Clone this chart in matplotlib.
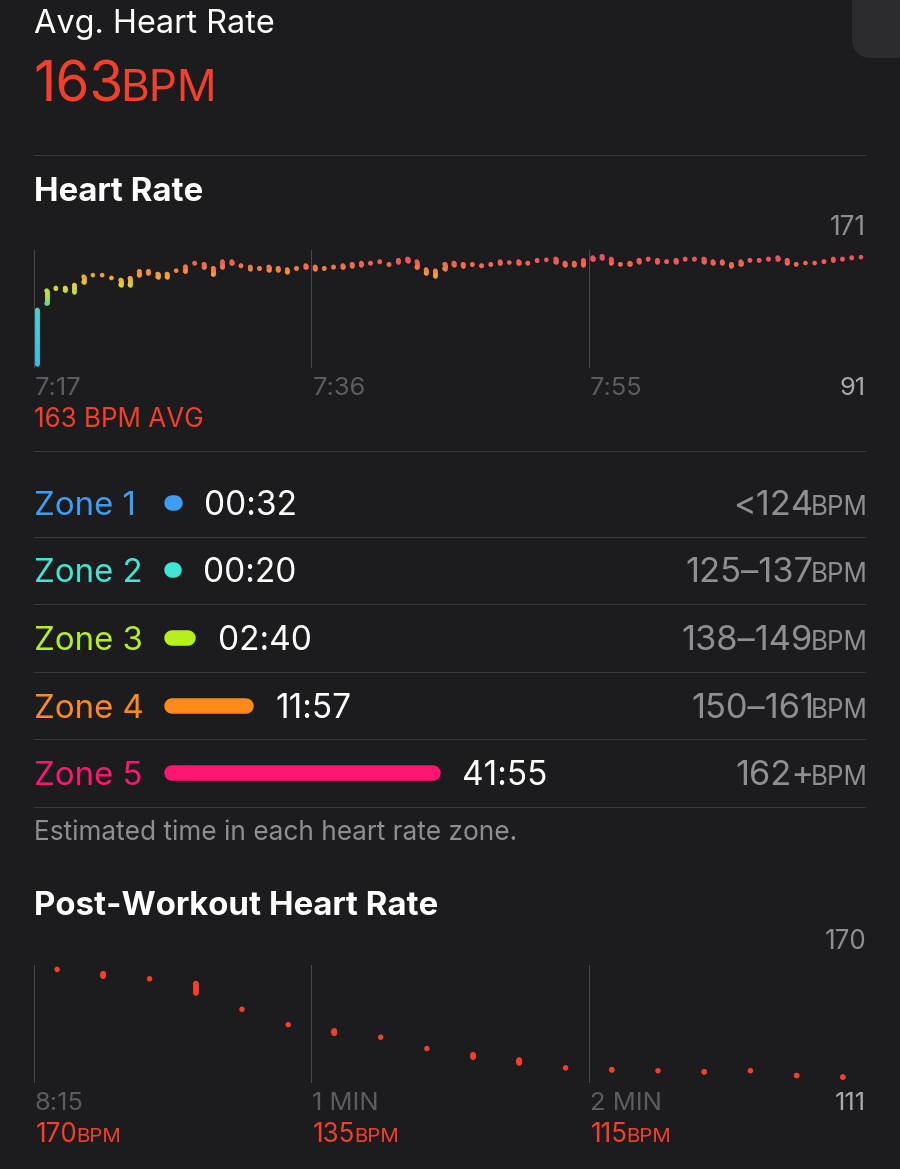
import matplotlib
matplotlib.use("Agg")
import matplotlib.pyplot as plt
import numpy as np
from matplotlib.collections import LineCollection
from matplotlib.colors import LinearSegmentedColormap, Normalize
from matplotlib.patches import FancyBboxPatch
from matplotlib.textpath import TextPath
from matplotlib.font_manager import FontProperties

# ---------------- data ----------------
avg_hr = 163
hr_axis_min, hr_axis_max = 91, 171
hr_tick_minutes = [0, 19, 38]
hr_tick_labels = ["7:17", "7:36", "7:55"]
hr_total_minutes = 57.0
hr_bin_start = 0.23      # minutes after 7:17 of the first sample bin
hr_bin_step = 0.634      # minutes per sample bin
hr_low = [92.4, 133.2, 143.2, 142.1, 141.2, 147.7, 152.5, 152.5, 150.5, 145.9,
          145.9, 152.5, 153.8, 151.3, 151.3, 155.9, 154.9, 160.4, 157.7, 152.9,
          157.9, 160.4, 158.6, 156.8, 156.8, 155.9, 155.9, 154.7, 156.8, 157.7,
          156.8, 156.8, 157.7, 157.7, 158.6, 159.5, 160.4, 161.3, 159.5, 161.3,
          162.2, 157.7, 153.8, 152.0, 156.8, 159.5, 158.6, 159.5, 158.6, 159.5,
          160.4, 161.3, 160.4, 160.4, 162.2, 163.1, 161.3, 159.5, 159.5, 159.6,
          163.1, 164.0, 160.6, 159.7, 159.7, 161.5, 163.1, 161.5, 161.5, 161.5,
          163.1, 163.1, 161.5, 160.6, 160.6, 158.6, 159.7, 162.4, 162.4, 163.1,
          163.1, 160.6, 159.7, 160.6, 160.6, 161.5, 162.4, 163.1, 164.0, 164.9]
hr_high = [131.9, 145.0, 146.8, 146.8, 148.8, 154.5, 155.4, 155.4, 153.6, 152.2,
           153.4, 158.1, 158.1, 156.3, 156.3, 158.1, 161.3, 163.7, 162.9, 160.2,
           164.7, 164.7, 162.0, 161.1, 160.2, 161.1, 160.2, 159.3, 160.2, 162.0,
           161.1, 160.2, 161.1, 162.0, 162.9, 163.7, 163.7, 164.7, 162.9, 165.6,
           166.5, 164.7, 159.3, 158.4, 162.9, 163.7, 162.9, 162.9, 162.0, 162.9,
           164.7, 163.7, 164.7, 163.7, 165.6, 165.6, 166.5, 163.7, 163.7, 165.5,
           167.4, 168.3, 166.5, 162.9, 163.7, 165.6, 166.5, 165.6, 164.7, 165.6,
           166.5, 166.5, 166.5, 164.7, 164.7, 162.9, 164.7, 165.6, 165.6, 166.5,
           167.4, 165.6, 162.9, 163.7, 163.7, 164.7, 166.5, 166.5, 167.4, 167.4]

zone_names = ["Zone 1", "Zone 2", "Zone 3", "Zone 4", "Zone 5"]
zone_times = ["00:32", "00:20", "02:40", "11:57", "41:55"]
zone_seconds = [32, 20, 160, 717, 2515]
zone_ranges = ["<124", "125\u2013137", "138\u2013149", "150\u2013161", "162+"]
zone_colors = ["#3d9df3", "#3ee6d4", "#b6f01c", "#ff8a1c", "#ff1670"]

post_axis_min, post_axis_max = 111, 170
post_tick_seconds = [0, 60, 120]
post_tick_labels = ["8:15", "1 MIN", "2 MIN"]
post_summary = ["170", "135", "115"]
post_seconds = [5, 15, 25, 35, 45, 55, 65, 75, 85, 95, 105, 115, 125, 135, 145, 155, 165, 175]
post_low = [167.8, 163.1, 163.1, 154.8, 146.5, 140.1, 134.4, 133.8, 128.1,
            122.4, 119.7, 117.2, 116.0, 117.0, 115.0, 117.0, 113.2, 112.4]
post_high = [167.8, 167.0, 163.1, 162.1, 149.1, 140.1, 138.3, 133.8, 128.1,
             126.4, 123.6, 119.7, 119.0, 117.0, 117.9, 117.0, 116.0, 115.2]

# ---------------- style ----------------
W, H = 900, 1169
BG = "#1c1c1e"
SEP = "#38383a"
GRID = "#48484a"
GRAY = "#8e8e93"
DIM = "#5c5c61"
RED = "#f4402a"
FONT = ["Inter", "DejaVu Sans"]
PT = 0.72  # points per pixel at dpi 100

plt.rcParams["font.family"] = FONT

fig = plt.figure(figsize=(W / 100, H / 100), dpi=100, facecolor=BG)
ui = fig.add_axes([0, 0, 1, 1])
ui.set_xlim(0, W)
ui.set_ylim(H, 0)
ui.axis("off")
ui.set_facecolor(BG)


def txt(x, y, s, size_px, color, ha="left", weight="normal"):
    return ui.text(x, y, s, fontsize=size_px * PT, color=color, ha=ha,
                   va="baseline", fontweight=weight)


def ink(s, size_px, weight="normal"):
    """(left, right) ink extent of a string drawn at x=0, in pixels."""
    tp = TextPath((0, 0), s, size=size_px, prop=FontProperties(family=FONT, weight=weight))
    e = tp.get_extents()
    return e.x0, e.x1


def pair_left(x, y, s1, px1, s2, px2, color, gap=2):
    l1, r1 = ink(s1, px1)
    txt(x - l1, y, s1, px1, color)
    l2, _ = ink(s2, px2)
    txt(x - l1 + r1 + gap - l2, y, s2, px2, color)


def pair_right(xr, y, s1, px1, s2, px2, color, gap=2):
    l2, r2 = ink(s2, px2)
    x2 = xr - r2
    txt(x2, y, s2, px2, color)
    l1, r1 = ink(s1, px1)
    txt(x2 + l2 - gap - r1, y, s1, px1, color)


def hline(y, x0=34, x1=866, color=SEP, lw=1.0):
    ui.plot([x0, x1], [y, y], color=color, lw=lw * PT, solid_capstyle="butt")


def px_axes(x0, y0, x1, y1):
    ax = fig.add_axes([x0 / W, 1 - y1 / H, (x1 - x0) / W, (y1 - y0) / H])
    ax.set_facecolor("none")
    ax.axis("off")
    return ax


# top-right card corner
ui.add_patch(FancyBboxPatch((852, -40), 100, 98, boxstyle="round,pad=0,rounding_size=20",
                            fc="#2c2c2e", ec="none"))

# header
txt(34, 33, "Avg. Heart Rate", 32.5, "white")
pair_left(36, 101, str(avg_hr), 55, "BPM", 44, RED, gap=3)
hline(155)

# ---- heart rate chart ----
txt(34, 201, "Heart Rate", 33, "white", weight="bold")
txt(866, 235, str(hr_axis_max), 26, GRAY, ha="right")

cmap = LinearSegmentedColormap.from_list(
    "hr",
    [(0.0, "#34bfe6"), ((128 - 92) / 76, "#3fd0d8"), ((134 - 92) / 76, "#5ad69a"),
     ((141 - 92) / 76, "#b5e045"), ((147 - 92) / 76, "#d9d53a"), ((151 - 92) / 76, "#f0b432"),
     ((155 - 92) / 76, "#f29a38"), ((159 - 92) / 76, "#f27a45"), ((163 - 92) / 76, "#f05e55"),
     (1.0, "#ee4a66")])
hr_norm = Normalize(92, 168)


def capsules(ax, xs, lo, hi, width_px, color_of, data_per_px):
    """Vertical range marks with round ends, coloured along their length."""
    r = width_px / 2 * data_per_px
    lw = width_px * PT
    step = 2.0 * data_per_px
    segs, cols, dx, dy, dc = [], [], [], [], []
    for x, l, h in zip(xs, lo, hi):
        a, b = l + r, h - r
        if b <= a:
            m = (l + h) / 2
            dx.append(x); dy.append(m); dc.append(color_of(m))
            continue
        dx += [x, x]; dy += [a, b]; dc += [color_of(a), color_of(b)]
        if b - a > data_per_px:
            n = max(1, int(np.ceil((b - a) / step)))
            edges = np.linspace(a, b, n + 1)
            for e0, e1 in zip(edges[:-1], edges[1:]):
                segs.append([(x, e0), (x, e1)])
                cols.append(color_of((e0 + e1) / 2))
    if segs:
        lc = LineCollection(segs, colors=cols, linewidths=lw, capstyle="round",
                            clip_on=False, zorder=3)
        ax.add_collection(lc)
    ax.scatter(dx, dy, s=lw ** 2, c=dc, linewidths=0, clip_on=False, zorder=4)


hr_ax = px_axes(34, 250, 866, 368)
hr_ax.set_xlim(0, hr_total_minutes)
hr_ax.set_ylim(hr_axis_min, hr_axis_max)
for m in hr_tick_minutes:
    hr_ax.axvline(m, color=GRID, lw=1.0 * PT, zorder=1)
hr_ax.axhline(hr_axis_min, color=GRID, lw=1.0 * PT, zorder=1)
hr_times = [hr_bin_start + i * hr_bin_step for i in range(len(hr_low))]
capsules(hr_ax, hr_times, hr_low, hr_high, 4.6, lambda v: cmap(hr_norm(v)),
         (hr_axis_max - hr_axis_min) / 118)
for m, lab in zip(hr_tick_minutes, hr_tick_labels):
    xpx = 34 + m / hr_total_minutes * 832
    txt(xpx + 1, 395, lab, 25.5, DIM)
txt(866, 395, str(hr_axis_min), 25.5, "#a8a8ad", ha="right")
txt(34, 427, f"{avg_hr} BPM AVG", 26, RED)
hline(451)

# ---- zones ----
row_h = 67.5
z_top = 469.25
k = 261 / 2515  # px per second
z_left = 164 + 7.5
z_ax = px_axes(z_left, z_top, 866, z_top + 5 * row_h)
z_ax.set_xlim(0, (866 - z_left) / k)
z_ax.set_ylim(4.5, -0.5)
for i, (name, tm, sec, rng, col) in enumerate(zip(zone_names, zone_times, zone_seconds,
                                                     zone_ranges, zone_colors)):
    yc = z_top + row_h * (i + 0.5)
    base = yc + 12
    txt(34, base, name, 33, col)
    z_ax.plot([0, sec], [i, i], color=col, lw=15.5 * PT, solid_capstyle="round", clip_on=False)
    z_ax.annotate(tm, (sec, i), xytext=(29.5 * PT, -12 * PT), textcoords="offset points",
                  fontsize=33.5 * PT, color="white", va="baseline", ha="left")
    pair_right(866, base, rng, 34.5, "BPM", 26, GRAY, gap=2)
    hline(z_top + row_h * (i + 1))

txt(34, 840, "Estimated time in each heart rate zone.", 26.2, GRAY)

# ---- post-workout chart ----
txt(34, 915, "Post-Workout Heart Rate", 33, "white", weight="bold")
txt(866, 949, str(post_axis_max), 26, GRAY, ha="right")
p_ax = px_axes(34, 965, 866, 1082.7)
p_ax.set_xlim(0, 180)
p_ax.set_ylim(post_axis_min, post_axis_max)
for s in post_tick_seconds:
    p_ax.axvline(s, color=GRID, lw=1.0 * PT, zorder=1)
p_ax.axhline(post_axis_min, color=GRID, lw=1.0 * PT, zorder=1)
capsules(p_ax, post_seconds, post_low, post_high, 5.5, lambda v: RED,
         (post_axis_max - post_axis_min) / 117.7)
for s, lab, summ in zip(post_tick_seconds, post_tick_labels, post_summary):
    xpx = 34 + s / 180 * 832
    txt(xpx + 1, 1110, lab, 25.5, DIM)
    pair_left(xpx + 3, 1142, summ, 26, "BPM", 20.5, RED, gap=2)
txt(866, 1110, str(post_axis_min), 25.5, "#a8a8ad", ha="right")

fig.savefig("out.png", dpi=100, facecolor=BG)
